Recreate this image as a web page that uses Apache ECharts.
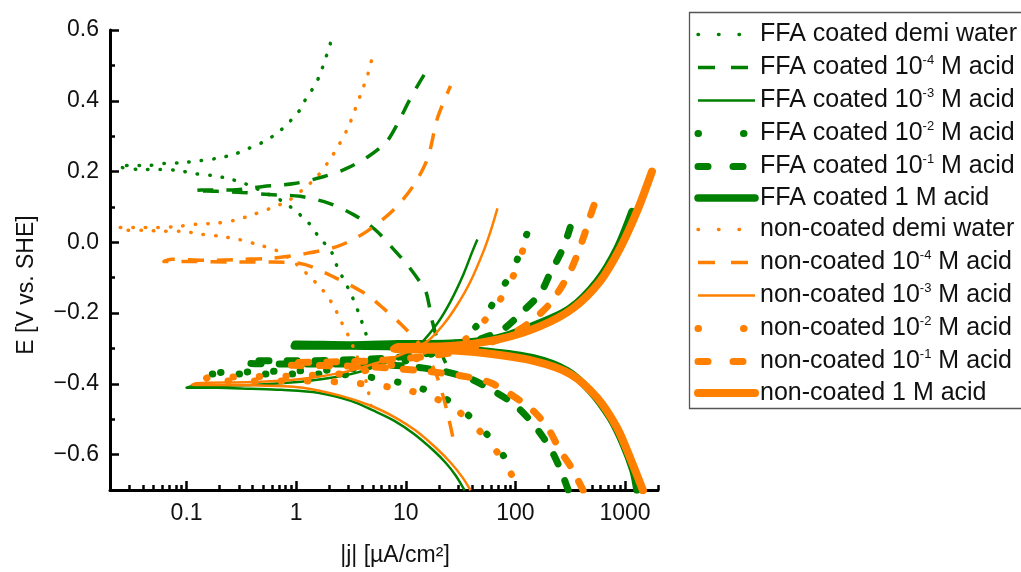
<!DOCTYPE html>
<html>
<head>
<meta charset="utf-8">
<script src="https://cdn.jsdelivr.net/npm/echarts@6/dist/echarts.min.js"></script>
<style>
html,body{margin:0;padding:0;background:#fff;overflow:hidden;}
#chart{width:1021px;height:572px;}
</style>
</head>
<body>
<div id="chart"></div>
<script>
// ---------------- data (|j| in µA/cm², E in V vs. SHE) ----------------
const seriesNames = [
  'FFA coated demi water', 'FFA coated 10⁻⁴ M acid', 'FFA coated 10⁻³ M acid',
  'FFA coated 10⁻² M acid', 'FFA coated 10⁻¹ M acid', 'FFA coated 1 M acid',
  'non-coated demi water', 'non-coated 10⁻⁴ M acid', 'non-coated 10⁻³ M acid',
  'non-coated 10⁻² M acid', 'non-coated 10⁻¹ M acid', 'non-coated 1 M acid'
];

const ffaDemiJ = [4.33,3.66,3.16,2.67,2.36,2.08,1.62,1.29,0.92,0.73,0.34,0.24,0.17,0.12,0.083,0.057,0.037,0.024,0.03,0.043,0.063,0.092,0.134,0.187,0.267,0.366,0.49,0.62,0.73,0.86,0.96,1.09,1.18,1.31,1.46,1.62,1.72,1.87,2.0,2.08];
const ffaDemiE = [-0.259,-0.194,-0.146,-0.101,-0.068,-0.025,0.014,0.056,0.096,0.118,0.166,0.180,0.189,0.194,0.203,0.206,0.206,0.214,0.217,0.217,0.223,0.225,0.231,0.237,0.248,0.265,0.282,0.301,0.318,0.338,0.358,0.375,0.397,0.417,0.442,0.468,0.490,0.524,0.546,0.575];

const ffa4J = [23.1,20.8,17.6,15.5,14.3,10.6,7.6,5.2,3.3,2.0,1.09,0.56,0.32,0.19,0.116,0.137,0.26,0.5,0.96,1.8,2.85,4.52,6.7,8.6,10.6,13.1,16.9];
const ffa4E = [-0.341,-0.307,-0.228,-0.146,-0.124,-0.068,-0.017,0.037,0.079,0.110,0.130,0.135,0.141,0.144,0.146,0.148,0.148,0.158,0.166,0.186,0.208,0.242,0.285,0.341,0.397,0.448,0.504];

const ffa3J = [34.4,28.5,23.1,18.0,11.8,7.8,5.1,3.16,1.58,0.73,0.39,0.19,0.1,0.111,0.39,1.11,2.08,3.5,5.9,9.0,13.7,19.5,25.7,33.6,40.6,45];
const ffa3E = [-0.701,-0.659,-0.623,-0.589,-0.541,-0.504,-0.476,-0.448,-0.425,-0.417,-0.414,-0.411,-0.411,-0.407,-0.403,-0.394,-0.383,-0.369,-0.346,-0.321,-0.285,-0.228,-0.166,-0.090,-0.025,0.008];

const ffa2J = [77.8,70,51.2,31.6,18.7,9.0,3.16,1.11,0.39,0.143,0.152,0.39,1.11,3.16,9.0,20.8,33.7,51.2,70,95.9,116,148];
const ffa2E = [-0.603,-0.583,-0.532,-0.470,-0.428,-0.397,-0.375,-0.372,-0.372,-0.372,-0.369,-0.366,-0.363,-0.358,-0.338,-0.307,-0.270,-0.214,-0.146,-0.076,-0.006,0.07];

const ffa1J = [303,267,221,180,137,95.9,63.1,39,20.8,9.0,3.16,1.11,0.351,0.39,1.11,3.16,9.0,20.8,51.2,77.8,118,169,208,256,291,316];
const ffa1E = [-0.70,-0.654,-0.597,-0.552,-0.504,-0.456,-0.420,-0.386,-0.363,-0.349,-0.344,-0.344,-0.341,-0.335,-0.335,-0.332,-0.324,-0.307,-0.270,-0.245,-0.194,-0.144,-0.087,-0.034,0.008,0.042];

const ffa0J = [1285,1183,959,731,481,297,146,51.2,20.8,11.1,3.16,0.96,0.98,3.16,8.46,25.6,68.6,158,316,556,846,1158];
const ffa0E = [-0.70,-0.645,-0.569,-0.496,-0.420,-0.363,-0.327,-0.307,-0.299,-0.296,-0.293,-0.293,-0.288,-0.290,-0.287,-0.285,-0.270,-0.231,-0.186,-0.110,-0.017,0.087];

const ncDemiJ = [4.81,4.33,3.51,2.97,2.56,2.17,1.69,0.94,0.66,0.44,0.30,0.20,0.134,0.090,0.061,0.041,0.027,0.024,0.037,0.054,0.083,0.123,0.184,0.273,0.41,0.58,0.85,1.18,1.55,2.0,2.46,2.97,3.44,3.98,4.52,5.0];
const ncDemiE = [-0.462,-0.392,-0.315,-0.262,-0.223,-0.177,-0.130,-0.054,-0.023,-0.006,0.008,0.017,0.023,0.031,0.031,0.034,0.034,0.042,0.042,0.042,0.045,0.051,0.054,0.062,0.079,0.096,0.118,0.152,0.186,0.231,0.276,0.324,0.375,0.428,0.476,0.530];

const nc4J = [26.8,23.1,18.7,13.7,9.0,5.9,4.3,2.31,1.06,0.59,0.26,0.111,0.062,0.073,0.152,0.32,0.59,1.11,2.41,4.42,7.8,11.6,15.8,19.5,25.6];
const nc4E = [-0.549,-0.462,-0.369,-0.293,-0.231,-0.180,-0.146,-0.101,-0.059,-0.056,-0.056,-0.054,-0.054,-0.048,-0.051,-0.048,-0.045,-0.034,-0.011,0.031,0.093,0.158,0.237,0.352,0.442];

const nc3J = [39,33,25.7,18.7,12.3,8.1,4.8,2.57,1.11,0.39,0.111,0.123,0.39,1.11,2.56,4.81,9.0,15.8,22.2,29.7,39,51.2,59.3,68.6];
const nc3E = [-0.701,-0.665,-0.623,-0.580,-0.532,-0.496,-0.462,-0.434,-0.410,-0.404,-0.403,-0.398,-0.395,-0.386,-0.369,-0.346,-0.318,-0.279,-0.231,-0.175,-0.110,-0.025,0.031,0.096];

const nc2J = [92,77.8,63.1,41.5,25.6,16.9,9.0,3.16,1.11,0.39,0.146,0.155,0.39,1.11,3.16,9.0,20.8,36.6,56.8,81.1,106,129];
const nc2E = [-0.656,-0.617,-0.580,-0.515,-0.462,-0.437,-0.414,-0.397,-0.392,-0.392,-0.389,-0.383,-0.380,-0.377,-0.369,-0.341,-0.307,-0.270,-0.208,-0.138,-0.062,0.025];

const nc1J = [415,374,316,256,200,152,111,59.3,31.6,13.7,4.81,2.08,0.811,0.90,2.08,4.81,13.7,31.6,77.8,129,208,316,415,481,556];
const nc1E = [-0.701,-0.673,-0.631,-0.589,-0.527,-0.482,-0.448,-0.397,-0.377,-0.363,-0.352,-0.349,-0.346,-0.341,-0.338,-0.335,-0.324,-0.307,-0.270,-0.231,-0.172,-0.082,0.011,0.073,0.130];

const nc0J = [1459,1110,846,556,316,146,51.2,20.8,7.8,8.46,25.6,73.1,169,337,593,901,1285,1760];
const nc0E = [-0.701,-0.608,-0.524,-0.439,-0.372,-0.335,-0.313,-0.304,-0.301,-0.296,-0.293,-0.273,-0.237,-0.186,-0.110,-0.017,0.087,0.2];

// axis ticks / labels
const xMajorTicks = [0.1, 1, 10, 100, 1000];
const yMajorTicks = [-0.6, -0.4, -0.2, 0, 0.2, 0.4, 0.6];
const yMinorTicks = [-0.7, -0.5, -0.3, -0.1, 0.1, 0.3, 0.5];
const X_MIN = 0.02, X_MAX = 2000, Y_MIN = -0.7, Y_MAX = 0.6;

// ---------------- styling ----------------
const GREEN = '#008000', ORANGE = '#ff8000';
const FONT = "'Liberation Sans', Arial, Helvetica, sans-serif";

const styles = [
  {color: GREEN,  width: 3.5, type: [0.5, 12], cap: 'round', legendType: [0.5, 20]},
  {color: GREEN,  width: 3.5, type: [16, 13],  cap: 'butt',  legendType: [17, 16]},
  {color: GREEN,  width: 2.5, type: 'solid',   cap: 'butt',  legendType: 'solid'},
  {color: GREEN,  width: 7,   type: [0.5, 26], cap: 'round', legendType: [0.5, 45]},
  {color: GREEN,  width: 7,   type: [10, 18],  cap: 'round', legendType: [10, 25]},
  {color: GREEN,  width: 7.5, type: 'solid',   cap: 'round', legendType: 'solid'},
  {color: ORANGE, width: 3.5, type: [0.5, 12], cap: 'round', legendType: [0.5, 20]},
  {color: ORANGE, width: 3.5, type: [16, 13],  cap: 'butt',  legendType: [17, 16]},
  {color: ORANGE, width: 2.5, type: 'solid',   cap: 'butt',  legendType: 'solid'},
  {color: ORANGE, width: 7,   type: [0.5, 26], cap: 'round', legendType: [0.5, 45]},
  {color: ORANGE, width: 7,   type: [10, 18],  cap: 'round', legendType: [10, 25]},
  {color: ORANGE, width: 8,   type: 'solid',   cap: 'round', legendType: 'solid'}
];

const dataSets = [
  [ffaDemiJ, ffaDemiE], [ffa4J, ffa4E], [ffa3J, ffa3E], [ffa2J, ffa2E], [ffa1J, ffa1E], [ffa0J, ffa0E],
  [ncDemiJ, ncDemiE], [nc4J, nc4E], [nc3J, nc3E], [nc2J, nc2E], [nc1J, nc1E], [nc0J, nc0E]
];

function zip(j, e) { return j.map((v, i) => [v, e[i]]); }

const series = seriesNames.map((name, i) => ({
  name: name,
  type: 'line',
  xAxisIndex: 0,
  yAxisIndex: 0,
  data: zip(dataSets[i][0], dataSets[i][1]),
  symbol: 'none',
  smooth: 0.3,
  animation: false,
  lineStyle: {color: styles[i].color, width: styles[i].width, type: styles[i].type, cap: styles[i].cap, join: 'round'},
  itemStyle: {color: styles[i].color},
  z: 2 + i
}));

const supMap = {'⁻': '-', '⁰': '0', '¹': '1', '²': '2', '³': '3', '⁴': '4'};
function legendLabel(name) {
  const m = name.match(/^(.*?10)([⁻⁰¹²³⁴]+)(.*)$/);
  if (!m) return '{t|' + name + '}';
  const sup = m[2].split('').map(c => supMap[c]).join('');
  return '{t|' + m[1] + '}{s|' + sup + '}{t|' + m[3] + '}';
}

// minor log ticks (2..9 per decade), drawn on a decorative overlay axis in log10 units
const xMinorLog = [];
for (let d = -2; d <= 3; d++) {
  for (let k = 2; k <= 9; k++) {
    const v = k * Math.pow(10, d);
    if (v > X_MIN * 1.0001 && v <= X_MAX * 1.0001) xMinorLog.push(Math.log10(v));
  }
}
const xMajorLog = xMajorTicks.map(v => Math.log10(v));

const chart = echarts.init(document.getElementById('chart'), null, {renderer: 'canvas'});

const option = {
  backgroundColor: '#ffffff',
  animation: false,
  textStyle: {fontFamily: FONT},
  grid: {left: 110, right: 363, top: 30, bottom: 82, containLabel: false},
  graphic: [{
    type: 'polyline', z: 0, silent: true,
    shape: {points: [[1100, 12.5], [689.5, 12.5], [689.5, 408.5], [1100, 408.5]]},
    style: {fill: null, stroke: '#555', lineWidth: 1.3}
  }],
  legend: {
    orient: 'vertical',
    left: 689,
    top: 12,
    padding: [10, 5, 2, 5],
    itemWidth: 57,
    itemHeight: 14,
    itemGap: 6.5,
    borderWidth: 0,
    selectedMode: false,
    formatter: legendLabel,
    itemStyle: {opacity: 0, borderWidth: 0},
    textStyle: {
      fontFamily: FONT, fontSize: 25, color: '#111',
      rich: {
        t: {fontFamily: FONT, fontSize: 25, color: '#111', lineHeight: 28},
        s: {fontFamily: FONT, fontSize: 13, color: '#111', lineHeight: 20, verticalAlign: 'top'}
      }
    },
    data: seriesNames.map((n, i) => ({
      name: n,
      itemStyle: {opacity: 0, borderWidth: 0},
      lineStyle: {width: styles[i].width, type: styles[i].legendType, cap: styles[i].cap, color: styles[i].color, opacity: 1}
    }))
  },
  xAxis: [
    {
      type: 'log', logBase: 10, min: X_MIN, max: X_MAX, splitNumber: 5,
      position: 'bottom',
      axisLine: {show: true, onZero: false, lineStyle: {color: '#000', width: 3}},
      axisTick: {show: false},
      splitLine: {show: false},
      axisLabel: {
        fontFamily: FONT, fontSize: 23, color: '#111', margin: 12,
        showMinLabel: false, showMaxLabel: false,
        formatter: v => {
          const r = +(+v).toPrecision(6);
          return xMajorTicks.indexOf(r) >= 0 ? String(r) : '';
        }
      },
      name: '|j| [µA/cm²]',
      nameLocation: 'middle',
      nameGap: 54,
      nameTextStyle: {fontFamily: FONT, fontSize: 23, color: '#111', padding: [0, 0, 0, 22]}
    },
    {
      type: 'value', min: Math.log10(X_MIN), max: Math.log10(X_MAX), position: 'bottom',
      axisLine: {show: false, onZero: false},
      axisLabel: {show: false},
      splitLine: {show: false},
      axisTick: {show: true, inside: true, length: 9, customValues: xMajorLog, lineStyle: {color: '#000', width: 2.5}}
    },
    {
      type: 'value', min: Math.log10(X_MIN), max: Math.log10(X_MAX), position: 'bottom',
      axisLine: {show: false, onZero: false},
      axisLabel: {show: false},
      splitLine: {show: false},
      axisTick: {show: true, inside: true, length: 5, customValues: xMinorLog, lineStyle: {color: '#000', width: 2.5}}
    }
  ],
  yAxis: [
    {
      type: 'value', min: Y_MIN, max: Y_MAX, position: 'left',
      axisLine: {show: true, onZero: false, lineStyle: {color: '#000', width: 3}},
      axisTick: {show: true, inside: true, length: 9, customValues: yMajorTicks, lineStyle: {color: '#000', width: 2.5}},
      splitLine: {show: false},
      axisLabel: {
        fontFamily: FONT, fontSize: 23, color: '#111', margin: 11,
        customValues: yMajorTicks,
        formatter: v => (v < -1e-9 ? '−' : '') + Math.abs(v).toFixed(1)
      },
      name: 'E [V vs. SHE]',
      nameLocation: 'middle',
      nameGap: 72,
      nameTextStyle: {fontFamily: FONT, fontSize: 23, color: '#111', padding: [0, 50, 0, 0]}
    },
    {
      type: 'value', min: Y_MIN, max: Y_MAX, position: 'left',
      axisLine: {show: false, onZero: false},
      axisLabel: {show: false},
      splitLine: {show: false},
      axisTick: {show: true, inside: true, length: 5, customValues: yMinorTicks, lineStyle: {color: '#000', width: 2.5}}
    }
  ],
  series: series
};

chart.setOption(option);
</script>
</body>
</html>
